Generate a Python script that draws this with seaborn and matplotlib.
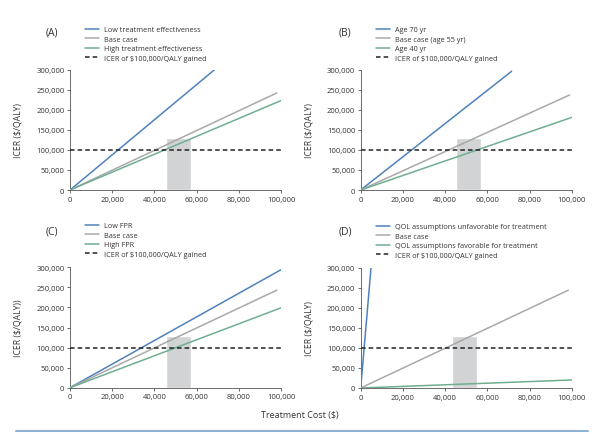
import matplotlib.pyplot as plt
import matplotlib.lines as mlines
import numpy as np
import pandas as pd
import seaborn as sns
from matplotlib.ticker import FuncFormatter

# end points of each straight ICER line (start is always 0, 0)
panel_names = ["(A)", "(B)", "(C)", "(D)"]
series_labels = [
    ["Low treatment effectiveness", "Base case", "High treatment effectiveness"],
    ["Age 70 yr", "Base case (age 55 yr)", "Age 40 yr"],
    ["Low FPR", "Base case", "High FPR"],
    ["QOL assumptions unfavorable for treatment", "Base case",
     "QOL assumptions favorable for treatment"],
]
end_cost = [
    [68500, 98000, 100000],
    [71500, 99000, 100000],
    [100000, 98000, 100000],
    [4900, 98400, 100000],
]
end_icer = [
    [300000, 242000, 223000],
    [296000, 237000, 181000],
    [294000, 243000, 199000],
    [300000, 244000, 20000],
]
# shaded cost range (left, right, height)
box_left = [45500, 45000, 45500, 43400]
box_right = [57500, 57200, 57500, 55200]
box_top = [130000, 130000, 130000, 130000]
threshold = 100000
threshold_label = "ICER of $100,000/QALY gained"
y_labels = ["ICER ($/QALY)", "ICER ($/QALY)", "ICER ($/QALY))", "ICER ($/QALY)"]

colors = ["#4f81bd", "#a9a9a9", "#6fae90"]

sns.set_theme(style="ticks")
plt.rcParams["font.family"] = ["Open Sans", "DejaVu Sans"]

fig = plt.figure(figsize=(6, 4.35), dpi=100)

# axes boxes in pixels: left, y of x-axis, y of top
boxes = [(70, 191, 70.7), (360.7, 191, 70.7), (70, 388.7, 268.3), (360.7, 389, 268.7)]
legend_anchor = [(85, 27), (376, 27), (85, 223), (376, 224)]
label_pos = [(52, 33), (345, 33), (52, 232), (345, 232)]

for i in range(4):
    left, y0, ytop = boxes[i]
    ax = fig.add_axes([left / 600, 1 - y0 / 435, 211 / 600, (y0 - ytop) / 435])

    ax.bar(box_left[i], box_top[i], width=box_right[i] - box_left[i],
           align="edge", color="#d2d3d5", zorder=1)

    rows = []
    for k in range(3):
        rows.append({"cost": 0, "icer": 0, "series": series_labels[i][k]})
        rows.append({"cost": end_cost[i][k], "icer": end_icer[i][k],
                     "series": series_labels[i][k]})
    df = pd.DataFrame(rows)
    sns.lineplot(data=df, x="cost", y="icer", hue="series",
                 hue_order=series_labels[i], palette=colors, linewidth=1.1,
                 ax=ax, legend=False, zorder=3)
    sns.lineplot(x=[0, 100000], y=[threshold, threshold], color="#222222",
                 linewidth=1.1, linestyle=(0, (3, 2)), ax=ax, zorder=4)

    ax.set_xlim(0, 100000)
    ax.set_ylim(0, 300000)
    ax.set_xticks(np.arange(0, 100001, 20000))
    ax.set_yticks(np.arange(0, 300001, 50000))
    fmt = FuncFormatter(lambda v, p: f"{int(v):,}")
    ax.xaxis.set_major_formatter(fmt)
    ax.yaxis.set_major_formatter(fmt)
    ax.tick_params(labelsize=5.5, length=2.5, width=0.6, colors="#555555",
                   labelcolor="#333333", pad=1.5)
    for s in ["left", "bottom"]:
        ax.spines[s].set_color("#555555")
        ax.spines[s].set_linewidth(0.6)
    sns.despine(ax=ax)
    ax.set_xlabel("")
    ax.set_ylabel(y_labels[i], fontsize=6.2, color="#333333")
    ax.yaxis.set_label_coords(-0.225, 0.5)

    handles = [mlines.Line2D([], [], color=c, linewidth=1.1) for c in colors]
    handles.append(mlines.Line2D([], [], color="#222222", linewidth=1.1,
                                 linestyle=(0, (3, 2))))
    lx, ly = legend_anchor[i]
    fig.legend(handles, series_labels[i] + [threshold_label], loc="upper left",
               bbox_to_anchor=(lx / 600, 1 - ly / 435), frameon=False,
               fontsize=5.2, handlelength=2.0, handletextpad=0.6,
               labelspacing=0.35, borderpad=0, borderaxespad=0,
               labelcolor="#333333")

    px, py = label_pos[i]
    fig.text(px / 600, 1 - py / 435, panel_names[i], fontsize=7.5,
             ha="center", va="center", color="#333333")

fig.text(0.5, 1 - 416 / 435, "Treatment Cost ($)", fontsize=6.5,
         ha="center", va="center", color="#333333")
fig.add_artist(mlines.Line2D([16 / 600, 588 / 600], [1 - 432 / 435] * 2,
                             color="#8fb4d3", linewidth=1.5))

fig.savefig("out.png", dpi=100)
